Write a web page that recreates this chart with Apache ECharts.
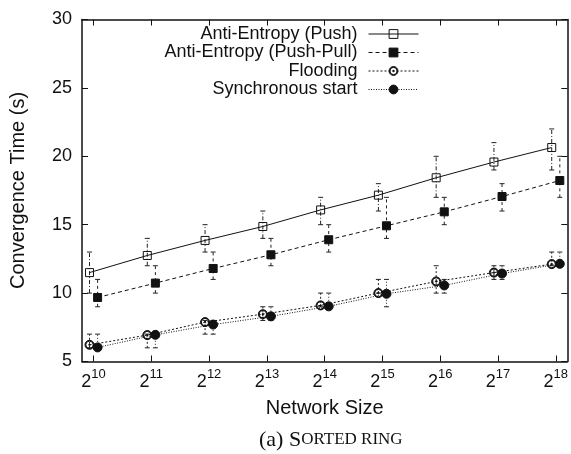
<!DOCTYPE html>
<html>
<head>
<meta charset="utf-8">
<script src="https://cdn.jsdelivr.net/npm/echarts@6/dist/echarts.min.js"></script>
<style>
  html, body { margin: 0; padding: 0; background: #fff; }
  #main { width: 571px; height: 454px; }
</style>
</head>
<body>
<div id="main"></div>
<script>
// network size exponents (2^10 .. 2^18)
var exps = [10, 11, 12, 13, 14, 15, 16, 17, 18];
var yTicks = [5, 10, 15, 20, 25, 30];

var names = ['Anti-Entropy (Push)', 'Anti-Entropy (Push-Pull)', 'Flooding', 'Synchronous start'];

var push     = [11.5, 12.75, 13.85, 14.87, 16.08, 17.16, 18.43, 19.58, 20.64];
var pushLow  = [10, 12, 13, 14, 15, 16, 17, 19, 19];
var pushHigh = [13, 14, 15, 16, 17, 18, 20, 21, 22];

var pushPull = [9.68, 10.73, 11.8, 12.8, 13.9, 14.92, 15.94, 17.06, 18.23];
var ppLow    = [9, 10, 11, 12, 13, 14, 15, 16, 17];
var ppHigh   = [11, 12, 13, 14, 15, 17, 17, 18, 20];

var flooding  = [6.22, 6.93, 7.88, 8.46, 9.1, 10.0, 10.85, 11.5, 12.12];
var floodLow  = [6, 6, 7, 8, 9, 10, 10, 11, 12];
var floodHigh = [7, 7, 8, 9, 10, 11, 12, 12, 13];

var sync     = [6.03, 6.95, 7.7, 8.3, 9.03, 9.95, 10.56, 11.43, 12.14];
var syncLow  = [6, 6, 7, 8, 9, 9, 10, 11, 12];
var syncHigh = [7, 7, 8, 9, 10, 11, 11, 12, 13];

// horizontal shift of the two point groups around each tick
var OFF = 0.07;
var FONT = "'Liberation Sans', Arial, sans-serif";
var SERIF = "'Liberation Serif', 'Times New Roman', serif";

var openSquare = 'path://M0,0H10V10H0Z';
var dotCircle = 'path://M0,10A10,10 0 1,1 20,10A10,10 0 1,1 0,10Z' +
  'M1.8,10A8.2,8.2 0 1,0 18.2,10A8.2,8.2 0 1,0 1.8,10Z' +
  'M8.3,10A1.7,1.7 0 1,1 11.7,10A1.7,1.7 0 1,1 8.3,10Z';

function pts(vals, off) {
  return exps.map(function (e, i) { return [e + off, vals[i]]; });
}
function bars(lo, hi, off) {
  return exps.map(function (e, i) { return [e + off, lo[i], hi[i]]; });
}

function errSeries(lo, hi, off, dash) {
  return {
    type: 'custom',
    silent: true,
    z: 1,
    data: bars(lo, hi, off),
    encode: { x: 0, y: [1, 2] },
    renderItem: function (params, api) {
      var x = api.value(0);
      var a = api.coord([x, api.value(1)]);
      var b = api.coord([x, api.value(2)]);
      var w = 2.5;
      var st = { stroke: '#222', lineWidth: 1 };
      return {
        type: 'group',
        children: [
          { type: 'line', shape: { x1: a[0], y1: a[1], x2: b[0], y2: b[1] },
            style: { stroke: '#222', lineWidth: 1, lineDash: dash } },
          { type: 'line', shape: { x1: a[0] - w, y1: a[1], x2: a[0] + w, y2: a[1] }, style: st },
          { type: 'line', shape: { x1: b[0] - w, y1: b[1], x2: b[0] + w, y2: b[1] }, style: st }
        ]
      };
    }
  };
}

function lineSeries(name, vals, off, symbol, size, fill, dash) {
  return {
    name: name,
    type: 'line',
    z: 3,
    data: pts(vals, off),
    symbol: symbol,
    symbolSize: size,
    showSymbol: true,
    showAllSymbol: true,
    itemStyle: { color: fill, borderColor: '#111', borderWidth: 1 },
    lineStyle: { color: '#111', width: 1, type: dash },
    emphasis: { disabled: true }
  };
}

var chart = echarts.init(document.getElementById('main'));
chart.setOption({
  animation: false,
  backgroundColor: '#fff',
  textStyle: { fontFamily: FONT },
  grid: { left: 82, right: 2, top: 19.5, bottom: 92.5 },
  title: {
    text: '{a|(a) S}{b|ORTED RING}',
    left: 254,
    top: 424,
    textStyle: {
      fontWeight: 'normal',
      rich: {
        a: { fontFamily: SERIF, fontSize: 22, fontWeight: 'normal', color: '#111' },
        b: { fontFamily: SERIF, fontSize: 17, fontWeight: 'normal', color: '#111' }
      }
    }
  },
  legend: {
    data: names,
    orient: 'vertical',
    align: 'right',
    right: 147,
    top: 20,
    itemWidth: 50,
    itemHeight: 11,
    itemGap: 0.5,
    selectedMode: false,
    lineStyle: { width: 1 },
    itemStyle: { borderWidth: 1 },
    textStyle: { fontFamily: FONT, fontSize: 18, color: '#111', padding: [0, 6, 0, 0] }
  },
  xAxis: [{
    type: 'value',
    min: 9.8,
    max: 18.2,
    name: 'Network Size',
    nameLocation: 'middle',
    nameGap: 37,
    nameTextStyle: { fontFamily: FONT, fontSize: 20, color: '#111' },
    axisLine: { lineStyle: { color: '#111', width: 1.5 } },
    axisTick: { inside: true, length: 6, customValues: exps, lineStyle: { color: '#111' } },
    splitLine: { show: false },
    axisLabel: {
      customValues: exps,
      margin: 6,
      formatter: function (v) { return '{b|2}{s|' + v + '}'; },
      rich: {
        b: { fontFamily: FONT, fontSize: 18, color: '#111', lineHeight: 30, verticalAlign: 'middle' },
        s: { fontFamily: FONT, fontSize: 13, color: '#111', lineHeight: 13, verticalAlign: 'top' }
      }
    }
  }, {
    type: 'value',
    position: 'top',
    min: 9.8,
    max: 18.2,
    axisLine: { lineStyle: { color: '#111', width: 1.5 } },
    axisTick: { inside: true, length: 6, customValues: exps, lineStyle: { color: '#111' } },
    axisLabel: { show: false },
    splitLine: { show: false }
  }],
  yAxis: [{
    type: 'value',
    min: 5,
    max: 30,
    interval: 5,
    name: 'Convergence Time (s)',
    nameLocation: 'middle',
    nameGap: 54,
    nameTextStyle: { fontFamily: FONT, fontSize: 20, color: '#111' },
    axisLine: { show: true, lineStyle: { color: '#111', width: 1.5 } },
    axisTick: { show: true, inside: true, length: 6, lineStyle: { color: '#111' } },
    splitLine: { show: false },
    axisLabel: { margin: 10, fontFamily: FONT, fontSize: 18, color: '#111' }
  }, {
    type: 'value',
    position: 'right',
    min: 5,
    max: 30,
    interval: 5,
    axisLine: { show: true, lineStyle: { color: '#111', width: 1.5 } },
    axisTick: { show: true, inside: true, length: 6, lineStyle: { color: '#111' } },
    axisLabel: { show: false },
    splitLine: { show: false }
  }],
  series: [
    errSeries(pushLow, pushHigh, -OFF, [4, 2, 1, 2]),
    errSeries(ppLow, ppHigh, OFF, [3, 3]),
    errSeries(floodLow, floodHigh, -OFF, [2, 2]),
    errSeries(syncLow, syncHigh, OFF, [1, 2]),
    lineSeries(names[0], push, -OFF, openSquare, 8, 'rgba(0,0,0,0)', 'solid'),
    lineSeries(names[1], pushPull, OFF, 'rect', 8, '#111', [4, 3]),
    lineSeries(names[2], flooding, -OFF, dotCircle, 9, '#111', [2, 2]),
    lineSeries(names[3], sync, OFF, 'circle', 9, '#111', [1, 1.5])
  ]
});
</script>
</body>
</html>
